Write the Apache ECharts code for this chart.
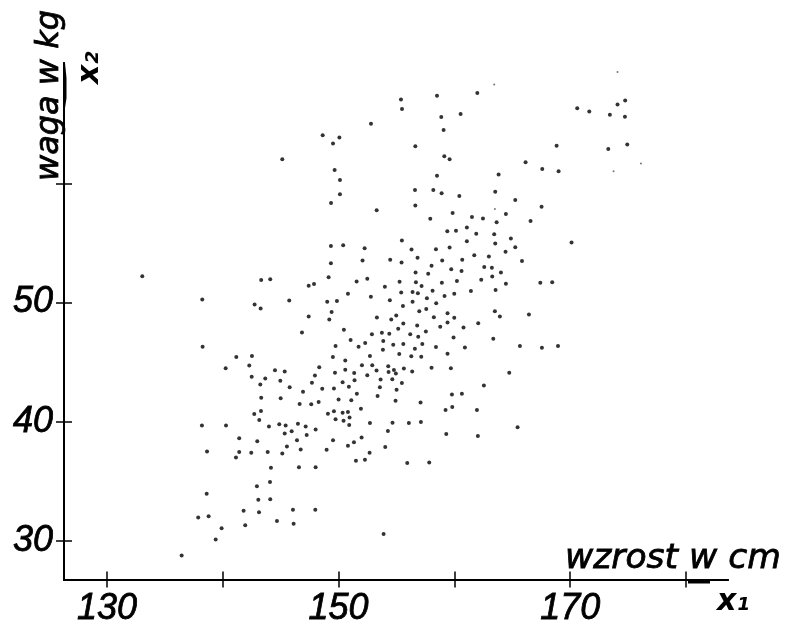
<!DOCTYPE html>
<html>
<head>
<meta charset="utf-8">
<style>html,body{margin:0;padding:0;background:#fff}#c{width:785px;height:627px}</style>
<script src="https://cdn.jsdelivr.net/npm/echarts@6/dist/echarts.min.js"></script>
</head>
<body>
<div id="c"></div>
<script>
// Pairs of [height cm, weight kg]
const lowerLeftGroup = [
[133.05,52.2],[143.32,51.89],[144.1,51.95],[147.42,51.41],[147.88,51.55],[138.23,50.24],[145.74,50.16],[142.75,49.82],[143.27,49.49],[147.42,48.82],
[146.84,47.49],[138.26,46.29],[141.17,45.43],[142.52,45.51],[142.29,44.7],[140.25,44.48],[144.51,44.31],[145.35,44.2],[148.33,44.56],[147.96,43.87],
[142.5,43.76],[143.67,43.62],[144.97,43.43],[143.24,43.12],[147.7,43.26],[145.78,42.89],[146.93,42.51],[143.32,42.0],[145.0,41.97]
];
const bottomGroup = [
[146.64,41.47],[147.64,41.45],[148.28,41.64],[142.72,40.63],[143.3,40.89],[143.15,40.13],[138.2,39.67],[140.28,39.67],[143.99,39.58],[144.88,39.77],
[145.43,39.67],[146.49,39.83],[147.16,39.58],[148.02,39.33],[145.35,39.0],[145.95,39.19],[147.25,38.88],[141.42,38.6],[142.98,38.35],[146.41,38.44],
[149.52,38.44],[145.54,37.91],[146.73,37.66],[148.97,37.63],[138.64,37.49],[141.42,37.44],[142.46,37.38],[143.88,37.44],[145.14,37.33],[141.14,36.99],
[144.16,36.12],[146.58,36.16],[148.02,36.18],[144.08,34.93],[142.95,34.57],[138.61,33.95],[143.07,33.45],[144.1,33.48],[141.8,32.51],[143.13,32.4],
[146.06,32.61],[147.99,32.61],[137.88,31.95],[138.78,32.06],[141.94,31.31],[144.68,31.65],[146.12,31.42],[139.9,31.06],[139.39,30.11],[136.45,28.77]
];
const centralGroup = [
[149.34,54.75],[150.4,54.81],[152.25,54.56],[155.47,55.2],[156.3,54.45],[158.41,54.47],[159.59,54.61],[161.08,55.14],[163.53,54.95],[165.26,54.64],
[164.42,54.25],[161.72,53.97],[162.98,53.86],[156.82,53.75],[149.34,53.3],[152.07,53.53],[154.46,53.58],[155.44,53.36],[158.95,53.53],[160.68,53.58],
[158.03,53.08],[162.58,52.97],[163.24,52.91],[159.73,52.78],[160.62,52.64],[156.65,52.52],[157.74,52.41],[164.02,52.52],[163.27,52.19],[149.14,52.11],
[151.56,51.77],[152.48,51.99],[155.27,51.75],[156.68,51.69],[157.17,51.38],[158.92,51.66],[160.22,51.8],[162.32,51.91],[164.45,51.58],[154.0,51.33],
[163.56,51.05],[161.43,50.96],[158.12,50.99],[150.81,50.74],[155.41,50.83],[156.39,50.88],[156.85,50.77],[159.99,50.74],[159.15,50.55],[152.79,50.49],
[157.63,50.35],[149.02,50.07],[149.86,50.13],[154.43,50.19],[156.39,50.07],[158.43,49.93],[155.56,49.71],[157.57,49.46],[156.97,49.27],[149.4,49.21],
[163.5,49.27],[159.41,49.1],[163.93,48.82],[154.98,48.9],[153.31,48.74],[154.55,48.57],[158.23,48.77],[159.99,48.71],[149.2,48.57],[159.41,48.32],
[155.59,48.24],[162.06,48.26],[156.79,48.07],[158.78,47.96],[160.79,47.9],[155.15,47.79],[150.46,47.71],[157.54,47.57],[153.74,47.46],[152.88,47.34],
[154.38,47.37],[156.19,47.34],[156.88,47.12],[159.93,47.07],[163.36,46.95],[151.04,46.84],[153.86,46.76],[152.3,46.59],[151.73,46.29],[154.72,46.45],
[155.59,46.51],[157.23,46.51],[149.74,46.34],[156.59,46.12],[158.41,46.26],[160.91,46.23],[153.83,46.04],[155.24,45.67],[159.41,45.7],[152.71,45.51],
[156.28,45.48],[157.14,45.45],[149.51,45.42],[150.58,45.12],[152.02,44.73],[152.91,44.73],[154.29,44.64],[155.64,44.45],[158.03,44.53],[159.7,44.48],
[154.78,44.34],[150.58,44.36],[153.28,44.28],[154.32,44.17],[156.36,44.2],[154.95,44.03],[149.69,44.11],[151.35,44.09],[164.74,44.11],[152.48,43.89],
[154.64,43.56],[153.63,43.53],[151.38,43.47],[150.35,43.31],[155.47,43.25],[162.55,43.03],[150.89,42.92],[153.57,42.89],[148.59,42.75],[149.6,42.78],
[155.01,42.67],[159.79,42.27],[160.65,42.33],[151.58,42.33],[153.37,42.16],[150.0,41.86],[151.1,41.8],[154.92,41.75],[157.08,41.61],[159.82,41.22],
[159.24,40.97],[161.95,40.97],[151.93,41.08],[149.6,40.88],[150.35,40.74],[150.81,40.8],[149.08,40.66],[150.95,40.35],[149.74,40.19],[150.43,40.08],
[150.92,39.71],[152.71,39.88],[154.66,39.91],[156.07,39.88],[157.11,39.96],[154.26,39.21],[159.3,38.96],[162.03,38.79],[165.46,39.52],[151.99,38.66],
[151.33,38.27],[150.81,37.97],[154.03,37.86],[152.68,37.38],[151.5,36.71],[152.28,36.8],[155.93,36.52],[157.83,36.57],[153.89,30.56]
];
const upperGroup = [
[155.39,67.04],[158.5,67.35],[155.48,66.23],[158.87,65.57],[160.54,65.82],[152.8,65.01],[159.07,64.48],[148.63,64.03],[150.07,63.84],[149.52,63.34],
[156.63,63.11],[159.13,62.28],[159.59,62.03],[145.14,62.03],[149.66,61.11],[150.12,60.27],[158.5,60.64],[156.6,59.44],[158.18,59.44],[158.9,59.16],
[160.43,58.94],[150.12,59.08],[149.35,58.35],[156.63,58.13],[153.29,57.74],[159.85,57.52],[157.92,57.02],[159.39,55.98],[160.14,56.01],
[161.98,67.59],[170.61,66.31],[171.65,66.03],[174.09,66.62],[174.75,66.95],[173.43,65.75],[174.73,65.59],[168.83,63.16],[173.29,62.89],[174.93,63.25],
[166.15,61.77],[167.59,61.2],[169.0,61.02],[163.82,60.74],[163.53,59.29],[165.26,58.6],[167.53,58.04],[161.52,57.18],[162.47,57.04],[164.45,57.43],
[163.65,56.73],[166.58,56.84],[161.08,56.29],[161.89,55.76],[163.44,55.73],[164.88,55.37],[170.12,55.03],
[165.84,53.48],[167.42,51.66],[168.45,51.7],[166.44,48.99],[165.66,46.35],[167.56,46.21],[168.95,46.35]
];
const faintPoints = [[174.09,69.35],[163.44,68.29],[176.11,61.66],[173.75,61.02],[163.5,57.85]];

const xTicks = [130,140,150,160,170,180];
const xLabels = [130,150,170];
const yTicks = [30,40,50,60];
const yLabels = [30,40,50];
const xRange = [126.29,183.63];
const yRange = [26.74,70.10];
const xTitle = 'wzrost w cm';
const yTitle = 'waga w kg';
const xSymbol = 'x\u2081';
const ySymbol = 'x\u2082';

const labelStyle = {fontFamily:'Liberation Sans',fontStyle:'italic',fontSize:36,color:'#000',textBorderColor:'#000',textBorderWidth:0.8};
const line = {show:true,onZero:false,lineStyle:{color:'#000',width:2}};
const allPoints = [].concat(lowerLeftGroup,bottomGroup,centralGroup,upperGroup);

function xAxis(inside,labels){
  return {type:'value',position:'bottom',min:xRange[0],max:xRange[1],splitLine:{show:false},axisLine:line,
    axisTick:{show:true,inside:inside,length:8,customValues:xTicks,lineStyle:{color:'#000',width:1.5}},
    axisLabel:labels?Object.assign({show:true,margin:11,customValues:xLabels},labelStyle):{show:false}};
}
function yAxis(inside,labels){
  return {type:'value',position:'left',min:yRange[0],max:yRange[1],splitLine:{show:false},axisLine:line,
    axisTick:{show:true,inside:inside,length:8,customValues:yTicks,lineStyle:{color:'#000',width:1.5}},
    axisLabel:labels?Object.assign({show:true,margin:11,padding:[6,0,0,0],customValues:yLabels},labelStyle):{show:false}};
}
const chart = echarts.init(document.getElementById('c'),null,{renderer:'canvas'});
chart.setOption({
  animation:false,
  backgroundColor:'#fff',
  grid:{left:64,right:57,top:63,bottom:45,containLabel:false},
  xAxis:[xAxis(false,true),xAxis(true,false)],
  yAxis:[yAxis(false,true),yAxis(true,false)],
  series:[
    {type:'scatter',data:allPoints,symbol:'circle',symbolSize:4,itemStyle:{color:'#000'},silent:true,clip:false},
    {type:'scatter',data:faintPoints,symbol:'circle',symbolSize:2,itemStyle:{color:'#555'},silent:true,clip:false}
  ],
  graphic:[
    {type:'text',x:565,y:559,style:{text:xTitle,font:'italic 34.5px "DejaVu Sans"',fill:'#000',stroke:'#000',lineWidth:0.8,textAlign:'left',textVerticalAlign:'middle'}},
    {type:'text',x:717,y:602,style:{text:xSymbol,font:'italic bold 30px "DejaVu Sans"',fill:'#000',textAlign:'left',textVerticalAlign:'middle'}},
    {type:'text',x:50,y:181,rotation:Math.PI/2,style:{text:yTitle,font:'italic 32px "DejaVu Sans"',fill:'#000',stroke:'#000',lineWidth:0.8,textAlign:'left',textVerticalAlign:'middle'}},
    {type:'text',x:90,y:84,rotation:Math.PI/2,style:{text:ySymbol,font:'italic bold 30px "DejaVu Sans"',fill:'#000',textAlign:'left',textVerticalAlign:'middle'}},
    {type:'polygon',shape:{points:[[64,63],[65,63],[66.5,78],[66.5,98],[65,108],[63,98],[63,78]]},style:{fill:'#000'}},
    {type:'line',shape:{x1:688,y1:582,x2:710,y2:582},style:{stroke:'#000',lineWidth:3}}
  ]
});
</script>
</body>
</html>
